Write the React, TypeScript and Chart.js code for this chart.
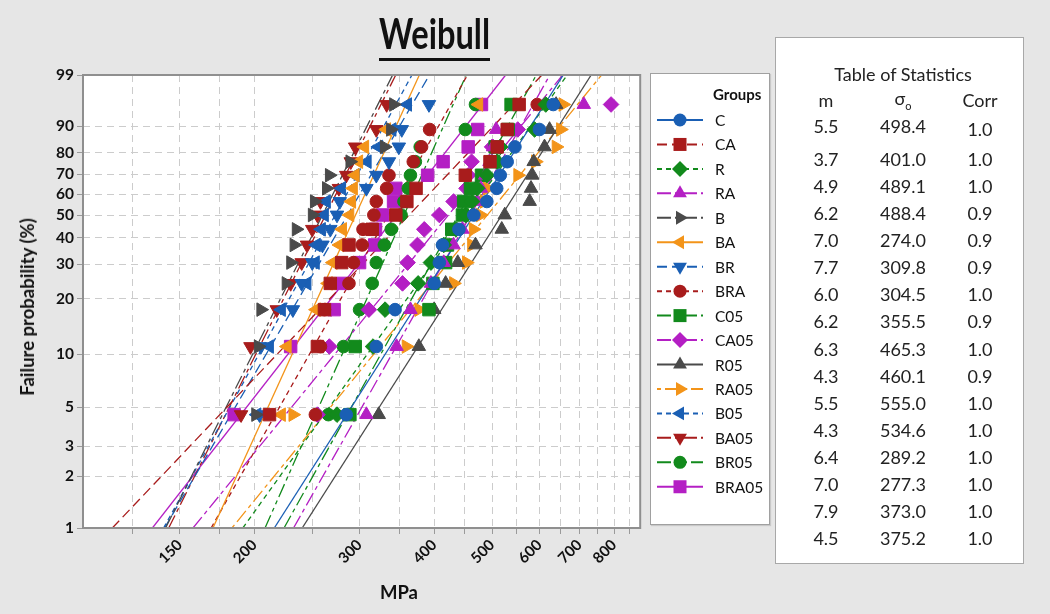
import React, { useEffect, useLayoutEffect, useRef, useState } from 'react';
import { Chart, registerables } from 'chart.js';
Chart.register(...registerables);

// ---------- data ----------
const groups = ['C', 'CA', 'R', 'RA', 'B', 'BA', 'BR', 'BRA', 'C05', 'CA05', 'R05', 'RA05', 'B05', 'BA05', 'BR05', 'BRA05'];
const shapeM = [5.5, 3.7, 4.9, 6.2, 7.0, 7.7, 6.0, 6.2, 6.3, 4.3, 5.5, 4.3, 6.4, 7.0, 7.9, 4.5];
const scaleSigma0 = [498.4, 401.0, 489.1, 488.4, 274.0, 309.8, 304.5, 355.5, 465.3, 460.1, 555.0, 534.6, 289.2, 277.3, 373.0, 375.2];
const corrValues = ['1.0', '1.0', '1.0', '0.9', '0.9', '0.9', '1.0', '0.9', '1.0', '0.9', '1.0', '1.0', '1.0', '1.0', '1.0', '1.0'];

// median-rank plotting positions (%) for 15 specimens
const rankPercent = [4.55, 11.04, 17.53, 24.03, 30.52, 37.01, 43.51, 50.0, 56.49, 62.99, 69.48, 75.97, 82.47, 88.96, 95.45];

const yTickPercent = [1, 2, 3, 5, 10, 20, 30, 40, 50, 60, 70, 80, 90, 99];
const xGridValues = [125, 150, 175, 200, 250, 300, 350, 400, 450, 500, 550, 600, 650, 700, 750, 800, 850];
const xTickLabels = [150, 200, 300, 400, 500, 600, 700, 800];

// strengths (MPa), sorted ascending
const strengthC = [285, 320, 344, 400, 408, 413, 440, 466, 490, 509, 516, 530, 546, 600, 633];
const strengthCA = [212, 255, 262, 268, 280, 288, 315, 345, 360, 373, 451, 496, 510, 530, 555];
const strengthR = [275, 316, 331, 376, 395, 415, 435, 452, 463, 472, 490, 510, 516, 589, 615];
const strengthRA = [308, 346, 365, 395, 415, 431, 446, 464, 472, 479, 487, 495, 502, 508, 712];
const strengthB = [201, 203, 205, 226, 230, 233, 235, 250, 252, 264, 267, 289, 330, 338, 342];
const strengthBA = [222, 227, 254, 266, 271, 278, 281, 289, 291, 293, 295, 299, 306, 333, 475];
const strengthBR = [204, 205, 232, 240, 250, 260, 268, 275, 278, 308, 320, 336, 349, 353, 392];
const strengthBRA = [253, 258, 262, 288, 293, 303, 304, 317, 320, 333, 336, 369, 381, 393, 595];
const strengthC05 = [289, 295, 392, 398, 418, 421, 428, 446, 448, 460, 480, 503, 506, 532, 538];
const strengthCA05 = [255, 267, 311, 354, 361, 375, 385, 408, 431, 453, 456, 462, 500, 552, 791];
const strengthR05 = [323, 377, 400, 418, 438, 469, 519, 525, 578, 581, 584, 587, 612, 624, 640];
const strengthRA05 = [232, 359, 377, 431, 453, 462, 465, 478, 485, 491, 552, 591, 640, 651, 657];
const strengthB05 = [202, 212, 222, 245, 253, 254, 259, 262, 264, 280, 295, 309, 323, 340, 361];
const strengthBA05 = [190, 197, 218, 230, 240, 245, 250, 255, 258, 277, 285, 290, 295, 320, 333];
const strengthBR05 = [266, 282, 300, 315, 320, 330, 339, 352, 356, 362, 365, 372, 379, 451, 469];
const strengthBRA05 = [185, 230, 272, 281, 300, 318, 319, 328, 342, 345, 390, 414, 456, 473, 480];

const strengths = [strengthC, strengthCA, strengthR, strengthRA, strengthB, strengthBA, strengthBR, strengthBRA,
  strengthC05, strengthCA05, strengthR05, strengthRA05, strengthB05, strengthBA05, strengthBR05, strengthBRA05];

// ---------- styles ----------
const BLUE = '#1a5fb4';
const RED = '#a81c1c';
const GREEN = '#128a1c';
const PURPLE = '#b41fc4';
const GRAY = '#4a4a4a';
const ORANGE = '#f39419';
const colors = [BLUE, RED, GREEN, PURPLE, GRAY, ORANGE, BLUE, RED, GREEN, PURPLE, GRAY, ORANGE, BLUE, RED, GREEN, PURPLE];
const DD = [14, 4, 4, 4];
const dashes: number[][] = [[], [10, 5], [5, 4], DD, DD, [], [10, 5], [5, 4], DD, DD, [], [4, 4, 14, 4], [5, 4], DD, [14, 4, 4, 4, 4, 4], []];
const shapes = ['circle', 'rect', 'rectRot', 'triangle', 'triangle', 'triangle', 'triangle', 'circle', 'rect', 'rectRot', 'triangle', 'triangle', 'triangle', 'triangle', 'circle', 'rect'];
const rotations = [0, 0, 0, 0, 90, 270, 180, 0, 0, 0, 0, 90, 270, 180, 0, 0];
const radiusFor = (s: string) => (s === 'circle' ? 6.3 : s === 'rect' ? 8.8 : 7.8);

const FONT = 'Lato, "Open Sans", "Liberation Sans", sans-serif';
const wb = (p: number) => Math.log(-Math.log(1 - p / 100));
const Y_MIN = wb(1);
const Y_MAX = wb(99);

function Chart1() {
  const ref = useRef<HTMLCanvasElement>(null);
  useEffect(() => {
    if (!ref.current) return;
    const datasets: any[] = [];
    groups.forEach((g, i) => {
      const m = shapeM[i];
      const s0 = scaleSigma0[i];
      datasets.push({
        label: g + ' fit',
        data: [
          { x: s0 * Math.exp(Y_MIN / m), y: Y_MIN },
          { x: s0 * Math.exp(Y_MAX / m), y: Y_MAX },
        ],
        showLine: true,
        pointRadius: 0,
        borderColor: colors[i],
        borderWidth: 1.3,
        borderDash: dashes[i],
        fill: false,
        order: 2,
      });
    });
    groups.forEach((g, i) => {
      datasets.push({
        label: g,
        data: strengths[i].map((v, k) => ({ x: v, y: wb(rankPercent[k]) })),
        showLine: false,
        pointStyle: shapes[i],
        pointRotation: rotations[i],
        pointRadius: radiusFor(shapes[i]),
        backgroundColor: colors[i],
        borderColor: colors[i],
        borderWidth: 1,
        order: 1,
      });
    });
    const framePlugin = {
      id: 'frame',
      beforeDraw(chart: any) {
        const { ctx, chartArea: a } = chart;
        ctx.save();
        ctx.fillStyle = '#ffffff';
        ctx.fillRect(a.left, a.top, a.right - a.left, a.bottom - a.top);
        ctx.restore();
      },
      afterDraw(chart: any) {
        const { ctx, chartArea: a } = chart;
        ctx.save();
        ctx.strokeStyle = '#8f8f8f';
        ctx.lineWidth = 2;
        ctx.strokeRect(a.left, a.top, a.right - a.left, a.bottom - a.top);
        ctx.restore();
      },
    };
    const chart = new Chart(ref.current, {
      type: 'scatter',
      data: { datasets },
      options: {
        animation: false,
        responsive: false,
        maintainAspectRatio: false,
        layout: { padding: { top: 75, right: 3, left: 0, bottom: 0 } },
        plugins: { legend: { display: false }, tooltip: { enabled: false }, title: { display: false } },
        scales: {
          x: {
            type: 'logarithmic',
            min: 103.3,
            max: 885,
            afterBuildTicks: (s: any) => { s.ticks = xGridValues.map((v) => ({ value: v })); },
            afterFit: (s: any) => { s.height = 86; },
            grid: { color: '#cccccc', lineWidth: 1, drawTicks: true, tickLength: 6, tickColor: '#9a9a9a', tickBorderDash: [] },
            border: { display: false, dash: [7, 5] },
            ticks: {
              autoSkip: false,
              minRotation: 45,
              maxRotation: 45,
              padding: 2,
              color: '#111',
              font: { family: FONT, size: 15, weight: 'bold' },
              callback: (v: any) => (xTickLabels.includes(Number(v)) ? String(v) : ''),
            },
          },
          y: {
            type: 'linear',
            min: Y_MIN,
            max: Y_MAX,
            afterBuildTicks: (s: any) => { s.ticks = yTickPercent.map((p) => ({ value: wb(p) })); },
            afterFit: (s: any) => { s.width = 83; },
            grid: { color: '#cccccc', lineWidth: 1, drawTicks: true, tickLength: 6, tickColor: '#9a9a9a', tickBorderDash: [] },
            border: { display: false, dash: [7, 5] },
            ticks: {
              autoSkip: false,
              padding: 3,
              color: '#111',
              font: { family: FONT, size: 15.5, weight: 'bold' },
              callback: (_v: any, idx: number) => String(yTickPercent[idx]),
            },
          },
        },
      } as any,
      plugins: [framePlugin],
    });
    return () => chart.destroy();
  }, []);
  return <canvas ref={ref} width={650} height={614} style={{ position: 'absolute', left: 0, top: 0, width: 650, height: 614 }} />;
}

function Title() {
  const ref = useRef<HTMLSpanElement>(null);
  const [sx, setSx] = useState(1);
  useLayoutEffect(() => {
    if (ref.current) {
      const w = ref.current.offsetWidth;
      if (w) setSx(111 / w);
    }
  }, []);
  return (
    <div style={{ position: 'absolute', left: 379, top: 8, width: 111, height: 56 }}>
      <span ref={ref} style={{ position: 'absolute', left: 0, top: 0, fontFamily: FONT, fontWeight: 700, fontSize: 42, lineHeight: '50px', whiteSpace: 'nowrap', transformOrigin: '0 0', transform: `scaleX(${sx})`, color: '#111' }}>Weibull</span>
      <div style={{ position: 'absolute', left: 0, top: 50, width: 111, height: 3, background: '#111' }} />
    </div>
  );
}

function markerSvg(i: number, cx: number, cy: number) {
  const c = colors[i];
  const s = shapes[i];
  if (s === 'circle') return <circle cx={cx} cy={cy} r={6.5} fill={c} />;
  if (s === 'rect') return <rect x={cx - 6.5} y={cy - 6.5} width={13} height={13} fill={c} />;
  if (s === 'rectRot') return <polygon points={`${cx},${cy - 8} ${cx + 8},${cy} ${cx},${cy + 8} ${cx - 8},${cy}`} fill={c} />;
  const r = 8;
  const pts: string[] = [];
  for (let k = 0; k < 3; k++) {
    const a = ((rotations[i] + k * 120) * Math.PI) / 180;
    pts.push(`${cx + Math.sin(a) * r},${cy - Math.cos(a) * r}`);
  }
  return <polygon points={pts.join(' ')} fill={c} />;
}

function Legend() {
  const top0 = 47;
  const step = 24.45;
  return (
    <div style={{ position: 'absolute', left: 650, top: 73, width: 120, height: 452, background: '#fff', border: '1px solid #a0a0a0', boxSizing: 'border-box', boxShadow: '1px 1px 1px #c8c8c8' }}>
      <div style={{ position: 'absolute', left: 62, top: 20, transform: 'translateY(-50%)', fontFamily: FONT, fontWeight: 700, fontSize: 15, color: '#111' }}>Groups</div>
      <svg width={120} height={452} style={{ position: 'absolute', left: -1, top: -1 }}>
        {groups.map((g, i) => {
          const y = top0 + step * i;
          return (
            <g key={g}>
              <line x1={7} y1={y} x2={53} y2={y} stroke={colors[i]} strokeWidth={2} strokeDasharray={dashes[i].length ? dashes[i].join(' ') : undefined} />
              {markerSvg(i, 30, y)}
            </g>
          );
        })}
      </svg>
      {groups.map((g, i) => (
        <div key={g} style={{ position: 'absolute', left: 64, top: top0 + step * i - 1, transform: 'translateY(-50%)', fontFamily: FONT, fontSize: 15.5, color: '#111', whiteSpace: 'nowrap' }}>{g}</div>
      ))}
    </div>
  );
}

function Cell({ x, y, children, size = 18 }: { x: number; y: number; children: any; size?: number }) {
  return (
    <div style={{ position: 'absolute', left: x, top: y, transform: 'translate(-50%, -50%)', fontFamily: FONT, fontSize: size, color: '#222', whiteSpace: 'nowrap', lineHeight: 1 }}>{children}</div>
  );
}

function StatsTable() {
  const L = 775;
  const T = 37;
  const rowY = (i: number) => (i === 0 ? 125 : 158 + (537 - 158) / 14 * (i - 1));
  return (
    <div style={{ position: 'absolute', left: L, top: T, width: 249, height: 527, background: '#fff', border: '1px solid #a8a8a8', boxSizing: 'border-box' }}>
      <Cell x={902 - L} y={73 - T}>Table of Statistics</Cell>
      <Cell x={825 - L} y={99 - T}>m</Cell>
      <Cell x={902 - L} y={99 - T}>σ<sub style={{ fontSize: 11 }}>o</sub></Cell>
      <Cell x={979 - L} y={99 - T}>Corr</Cell>
      {groups.map((g, i) => (
        <React.Fragment key={g}>
          <Cell x={825 - L} y={rowY(i) - T}>{shapeM[i].toFixed(1)}</Cell>
          <Cell x={902 - L} y={rowY(i) - T}>{scaleSigma0[i].toFixed(1)}</Cell>
          <Cell x={979 - L} y={rowY(i) - T + (i === 0 ? 3 : 0)}>{corrValues[i]}</Cell>
        </React.Fragment>
      ))}
    </div>
  );
}

export default function App() {
  return (
    <div style={{ position: 'fixed', left: 0, top: 0, width: 1050, height: 614, background: '#e6e6e6', overflow: 'hidden' }}>
      <Chart1 />
      <Title />
      <div style={{ position: 'absolute', left: 27, top: 307, transform: 'translate(-50%, -50%) rotate(-90deg)', fontFamily: FONT, fontWeight: 700, fontSize: 18.5, color: '#111', whiteSpace: 'nowrap' }}>Failure probability (%)</div>
      <div style={{ position: 'absolute', left: 399, top: 592, transform: 'translate(-50%, -50%)', fontFamily: FONT, fontWeight: 700, fontSize: 18.5, color: '#111', whiteSpace: 'nowrap' }}>MPa</div>
      <Legend />
      <StatsTable />
    </div>
  );
}
